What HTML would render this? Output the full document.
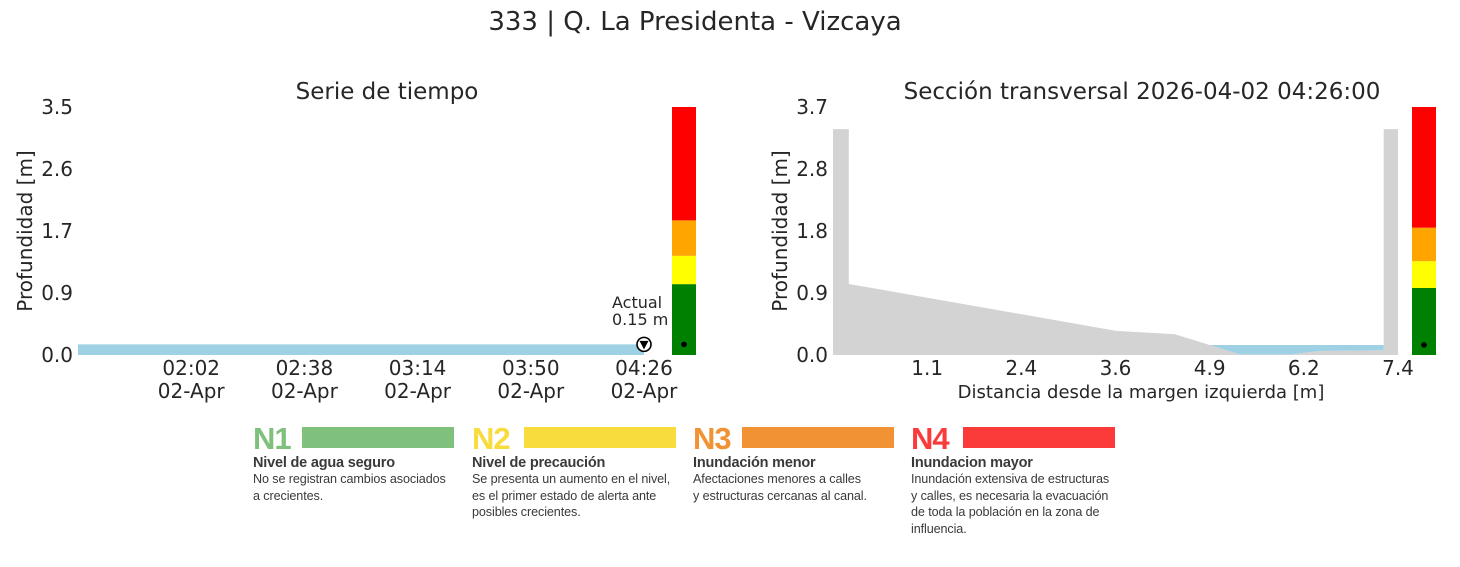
<!DOCTYPE html>
<html><head><meta charset="utf-8"><style>
html,body{margin:0;padding:0;background:#fff;}
body{width:1460px;height:563px;overflow:hidden;position:relative;font-family:"DejaVu Sans","Liberation Sans",sans-serif;}
svg text{font-family:"DejaVu Sans","Liberation Sans",sans-serif;fill:#262626;}
.leg{position:absolute;top:424px;width:215px;font-family:"Liberation Sans",sans-serif;color:#3a3a3a;}
.leg .n{font-size:31px;font-weight:bold;line-height:30px;display:inline-block;width:48px;letter-spacing:-1px;}
.leg .bar{position:absolute;left:49px;top:3px;width:152px;height:21px;}
.leg .h{font-size:14.5px;font-weight:bold;margin-top:1px;letter-spacing:-0.2px;}
.leg .d{font-size:12.6px;line-height:16.5px;white-space:nowrap;letter-spacing:-0.1px;}
</style></head><body>
<svg id="chart" width="1460" height="563" xmlns="http://www.w3.org/2000/svg">
<text x="695" y="30" font-size="26" text-anchor="middle">333 | Q. La Presidenta - Vizcaya</text>
<text x="387" y="99" font-size="23" text-anchor="middle">Serie de tiempo</text>
<text x="1142" y="99" font-size="23" text-anchor="middle">Sección transversal 2026-04-02 04:26:00</text>
<text transform="translate(32,231) rotate(-90)" font-size="20" text-anchor="middle">Profundidad [m]</text>
<text transform="translate(787,231) rotate(-90)" font-size="20" text-anchor="middle">Profundidad [m]</text>
<text x="1141" y="398" font-size="18" text-anchor="middle">Distancia desde la margen izquierda [m]</text>
<g id="left"></g><g id="right"></g>
</svg>
<div class="leg" style="left:253px"><span class="n" style="color:#80c07d">N1</span><div class="bar" style="background:#80c07d"></div><div class="h">Nivel de agua seguro</div><div class="d">No se registran cambios asociados<br>a crecientes.</div></div>
<div class="leg" style="left:472px"><span class="n" style="color:#f8db3c">N2</span><div class="bar" style="background:#f8db3c;left:52px"></div><div class="h">Nivel de precaución</div><div class="d">Se presenta un aumento en el nivel,<br>es el primer estado de alerta ante<br>posibles crecientes.</div></div>
<div class="leg" style="left:693px"><span class="n" style="color:#f19234">N3</span><div class="bar" style="background:#f19234"></div><div class="h">Inundación menor</div><div class="d">Afectaciones menores a calles<br>y estructuras cercanas al canal.</div></div>
<div class="leg" style="left:911px"><span class="n" style="color:#fb3a3a">N4</span><div class="bar" style="background:#fb3a3a;left:52px;width:152px"></div><div class="h">Inundacion mayor</div><div class="d">Inundación extensiva de estructuras<br>y calles, es necesaria la evacuación<br>de toda la población en la zona de<br>influencia.</div></div>
<script>
// time series data (minutes since 00:00)
const tsTimes = [86, 266];
const tsDepth = [0.15, 0.15];
const tsTickMin = [122, 158, 194, 230, 266];
const tsTickLabels = ["02:02", "02:38", "03:14", "03:50", "04:26"];
const tsYTicks = [0, 0.875, 1.75, 2.625, 3.5];
const tsYLabels = ["0.0", "0.9", "1.7", "2.6", "3.5"];
const currentDepth = 0.15;
// alert thresholds (m)
const levelBounds = [0, 1.0, 1.4, 1.9];
const levelColors = ["#008000", "#ffff00", "#ffa500", "#ff0000"];
// cross section
const csX = [-0.1, 0.11, 0.11, 3.66, 4.44, 4.9, 5.3, 5.97, 6.36, 7.21, 7.21, 7.4];
const csZ = [3.37, 3.37, 1.06, 0.36, 0.31, 0.15, 0.01, 0.01, 0.06, 0.07, 3.37, 3.37];
const csXTicks = [1.15, 2.4, 3.65, 4.9, 6.15, 7.4];
const csXLabels = ["1.1", "2.4", "3.6", "4.9", "6.2", "7.4"];
const csYTicks = [0, 0.925, 1.85, 2.775, 3.7];
const csYLabels = ["0.0", "0.9", "1.8", "2.8", "3.7"];
const NS = "http://www.w3.org/2000/svg";
function mk(parent, tag, attrs, txt){const e=document.createElementNS(NS,tag);for(const k in attrs)e.setAttribute(k,attrs[k]);if(txt!==undefined)e.textContent=txt;parent.appendChild(e);return e;}
const L = document.getElementById('left'), R = document.getElementById('right');
const lx = t => 78 + (t - 86) * (644 - 78) / 180;
const ly = v => 355 - v * 248 / 3.5;
let pts = tsTimes.map((t,i)=>lx(t)+','+ly(tsDepth[i])).join(' ') + ' ' + lx(tsTimes[tsTimes.length-1])+','+ly(0)+' '+lx(tsTimes[0])+','+ly(0);
let a = mk(L,'polygon',{points:pts,fill:'#9dd1e3'});


tsYTicks.forEach((v,i)=>{let t=mk(L,'text',{x:73,y:ly(v)+7,'font-size':20,'text-anchor':'end'},tsYLabels[i]);

});
tsTickMin.forEach((m,i)=>{let t=mk(L,'text',{x:lx(m),y:375,'font-size':20,'text-anchor':'middle'},tsTickLabels[i]);


let t2=mk(L,'text',{x:lx(m),y:398,'font-size':20,'text-anchor':'middle'},'02-Apr');

});
const mx = lx(tsTimes[tsTimes.length-1]), my = ly(currentDepth);
let c = mk(L,'circle',{cx:mx,cy:my,r:7,fill:'#fff',stroke:'#000','stroke-width':1.6});


mk(L,'polygon',{points:(mx-4.5)+','+(my-3.5)+' '+(mx+4.5)+','+(my-3.5)+' '+mx+','+(my+5),fill:'#000'});
let an1=mk(L,'text',{x:612,y:308,'font-size':16},'Actual');


let an2=mk(L,'text',{x:612,y:325,'font-size':16},currentDepth.toFixed(2)+' m');


function levelBar(g, x0, yf, maxV){
  levelBounds.forEach((b,i)=>{const top = i<levelBounds.length-1 ? levelBounds[i+1] : maxV;
    let r=mk(g,'rect',{x:x0,y:yf(top),width:24,height:yf(b)-yf(top),fill:levelColors[i]});
    
    });
  let d=mk(g,'circle',{cx:x0+12,cy:yf(currentDepth),r:2.8,fill:'#000'});
  
  
}
levelBar(L,672,ly,3.5);
const rx = v => 833 + (v + 0.1) * (1398 - 833) / 7.5;
const ry = v => 355 - v * 248 / 3.7;
let gp = csX.map((x,i)=>rx(x)+','+ry(csZ[i])).join(' ')+' '+rx(csX[csX.length-1])+','+ry(0)+' '+rx(csX[0])+','+ry(0);
let g=mk(R,'polygon',{points:gp,fill:'#d3d3d3'});


const wl = currentDepth;
let wpts=[];
for(let i=0;i<csX.length;i++){ if(csX[i]>=4.9 && csX[i]<=7.21 && csZ[i]<=wl) wpts.push([csX[i],csZ[i]]); }
let wp = wpts.map(p=>rx(p[0])+','+ry(p[1])).join(' ')+' '+rx(wpts[wpts.length-1][0])+','+ry(wl)+' '+rx(wpts[0][0])+','+ry(wl);
let w=mk(R,'polygon',{points:wp,fill:'#9dd1e3'});


csYTicks.forEach((v,i)=>{let t=mk(R,'text',{x:828,y:ry(v)+7,'font-size':20,'text-anchor':'end'},csYLabels[i]);

});
csXTicks.forEach((v,i)=>{let t=mk(R,'text',{x:rx(v),y:375,'font-size':20,'text-anchor':'middle'},csXLabels[i]);

});
levelBar(R,1412,ry,3.7);
</script>
</body></html>
